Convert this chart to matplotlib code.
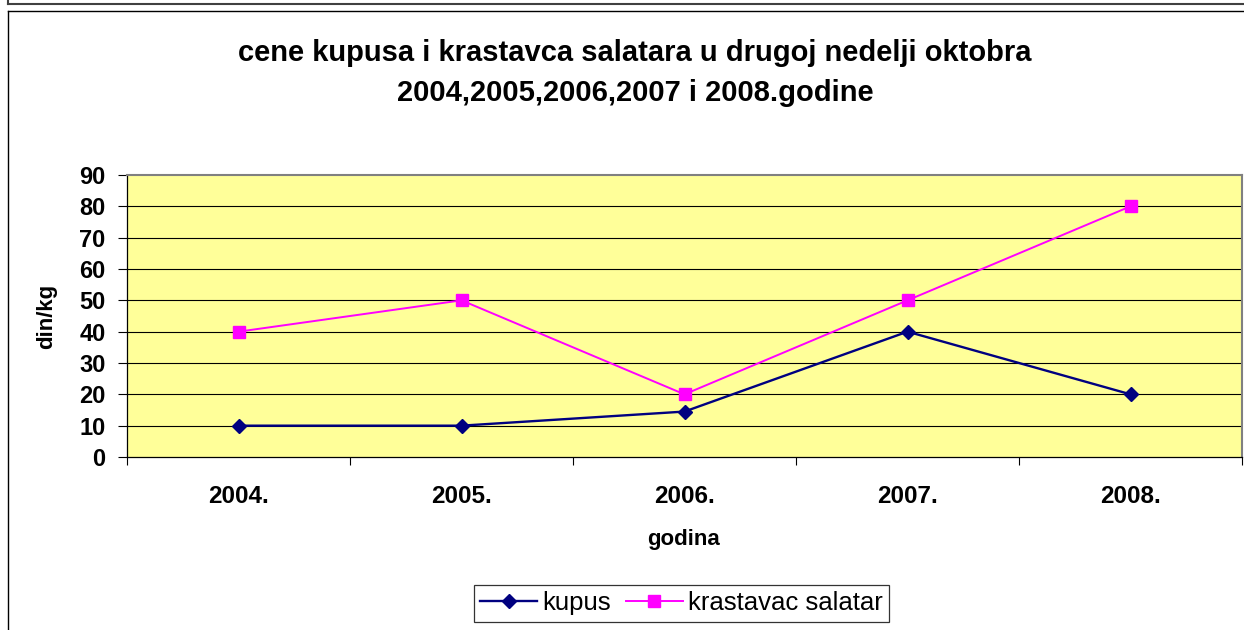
import matplotlib.pyplot as plt
from matplotlib.lines import Line2D
from matplotlib.ticker import FixedLocator, NullFormatter

years = ['2004.', '2005.', '2006.', '2007.', '2008.']
kupus = [10, 10, 14.5, 40, 20]
krastavac = [40, 50, 20, 50, 80]
yticks = [0, 10, 20, 30, 40, 50, 60, 70, 80, 90]

plt.rcParams['font.family'] = ['Liberation Sans', 'DejaVu Sans']

W, H = 1244, 630
fig = plt.figure(figsize=(W / 100, H / 100), dpi=100)

# outer frames (Excel chart area borders)
fig.add_artist(Line2D([8 / W, 1], [1 - 4 / H, 1 - 4 / H], color='#404040', lw=1.5))
fig.add_artist(Line2D([8 / W, 8 / W], [1, 1 - 4 / H], color='#404040', lw=1.5))
fig.add_artist(Line2D([8 / W, 1], [1 - 11 / H, 1 - 11 / H], color='black', lw=1.0))
fig.add_artist(Line2D([8 / W, 8 / W], [0, 1 - 11 / H], color='black', lw=1.0))

ax = fig.add_axes([127 / W, 1 - 457 / H, (1242 - 127) / W, (457 - 175) / H])
ax.set_facecolor('#FFFF99')
x = list(range(len(years)))
ax.plot(x, kupus, color='#000080', lw=1.7, marker='D', markersize=7, label='kupus')
ax.plot(x, krastavac, color='#FF00FF', lw=1.4, marker='s', markersize=8.3, label='krastavac salatar')

ax.set_xlim(-0.5, len(years) - 0.5)
ax.set_ylim(0, 90)
ax.set_yticks(yticks)
for v in yticks[1:-1]:
    ax.axhline(v, color='black', lw=0.8, zorder=0.5)

ax.xaxis.set_major_locator(FixedLocator([i - 0.5 for i in range(len(years) + 1)]))
ax.xaxis.set_major_formatter(NullFormatter())
ax.xaxis.set_minor_locator(FixedLocator(x))
ax.set_xticklabels(years, minor=True)
ax.tick_params(axis='x', which='major', direction='out', length=6, width=0.8)
ax.tick_params(axis='x', which='minor', length=0, pad=20, labelsize=17.5)
ax.tick_params(axis='y', direction='out', length=6.5, width=0.8, pad=9, labelsize=17)
for lab in ax.get_xticklabels(minor=True) + ax.get_yticklabels():
    lab.set_fontweight('bold')

for s in ['top', 'right']:
    ax.spines[s].set_color('#808080')
    ax.spines[s].set_linewidth(1.5)
for s in ['left', 'bottom']:
    ax.spines[s].set_color('black')
    ax.spines[s].set_linewidth(0.9)

fig.text(635 / W, 1 - 53 / H, 'cene kupusa i krastavca salatara u drugoj nedelji oktobra',
         ha='center', va='center', fontsize=21, fontweight='bold')
fig.text(635 / W, 1 - 93 / H, '2004,2005,2006,2007 i 2008.godine',
         ha='center', va='center', fontsize=21, fontweight='bold')
fig.text(684 / W, 1 - 540 / H, 'godina', ha='center', va='center', fontsize=16, fontweight='bold')
fig.text(47 / W, 1 - 316 / H, 'din/kg', ha='center', va='center', rotation=90,
         fontsize=16, fontweight='bold')

leg = fig.legend(loc='upper left', bbox_to_anchor=(474 / W, 1 - 585 / H), borderaxespad=0,
                 ncol=2, fontsize=18.5, frameon=True, fancybox=False, handlelength=2.2,
                 handletextpad=0.2, columnspacing=0.6, borderpad=0.25)
leg.get_frame().set_edgecolor('black')
leg.get_frame().set_linewidth(0.9)

fig.savefig('out.png', dpi=100)
